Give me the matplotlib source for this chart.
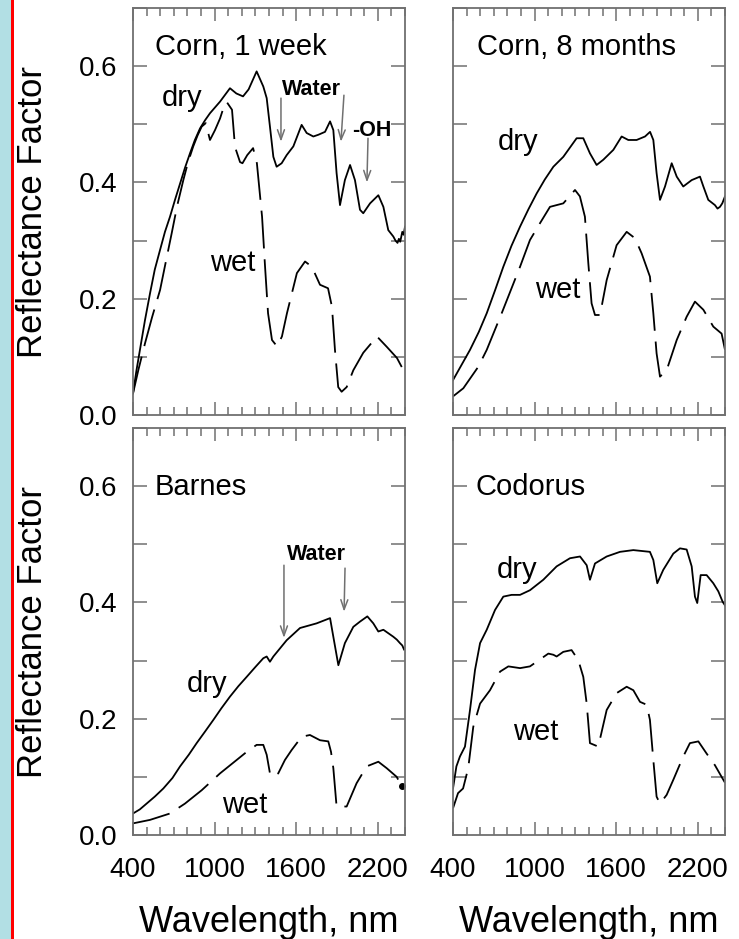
import matplotlib.pyplot as plt
from matplotlib.patches import Rectangle
from matplotlib.ticker import FixedLocator, MultipleLocator, FormatStrFormatter

plt.rcParams['font.family'] = ['Liberation Sans', 'DejaVu Sans']

# Corn residue, 1 week
corn1w_dry_nm = [400, 425, 451, 488, 525, 560, 599, 635, 672, 710, 746, 782, 819, 855, 893,
                 930, 966, 1040, 1113, 1160, 1209, 1250,
                 1309, 1358, 1383, 1407, 1432, 1456, 1493, 1530, 1579, 1640, 1677, 1726, 1763,
                 1812, 1849, 1873, 1897, 1922, 1958, 1996, 2032, 2069, 2093, 2143, 2204, 2241,
                 2277, 2314, 2330, 2345, 2355, 2365, 2380, 2390, 2400]
corn1w_dry = [0.037, 0.076, 0.112, 0.163, 0.209, 0.250, 0.284, 0.315, 0.341, 0.371, 0.398,
              0.425, 0.450, 0.473, 0.493, 0.507, 0.519, 0.539, 0.562,
              0.553, 0.548, 0.560, 0.591, 0.565, 0.545, 0.496, 0.444, 0.427, 0.433, 0.447,
              0.462, 0.499, 0.485, 0.479, 0.482, 0.487, 0.505, 0.490, 0.416, 0.361, 0.404,
              0.430, 0.404, 0.353, 0.347, 0.364, 0.378, 0.358, 0.318, 0.307, 0.300, 0.296,
              0.303, 0.298, 0.315, 0.310, 0.324]
corn1w_wet_nm = [400, 440, 488, 540, 599, 640, 684, 725, 770, 805, 843, 875, 905, 935, 966,
                 1003, 1040, 1076, 1090, 1128,
                 1150, 1187, 1205, 1240, 1283, 1311, 1349, 1371, 1393, 1422, 1459, 1495, 1532,
                 1605, 1665, 1715, 1775, 1834, 1863, 1885, 1909, 1934, 1971, 2020, 2093, 2194,
                 2267, 2341, 2400]
corn1w_wet = [0.037, 0.078, 0.123, 0.168, 0.215, 0.262, 0.312, 0.360, 0.404, 0.435, 0.462,
              0.481, 0.496, 0.502, 0.473, 0.490, 0.510,
              0.536, 0.538, 0.525, 0.461, 0.435, 0.433, 0.447, 0.459, 0.433, 0.341, 0.255,
              0.175, 0.129, 0.118, 0.135, 0.175, 0.244, 0.264, 0.255, 0.224, 0.218, 0.186,
              0.112, 0.048, 0.040, 0.048, 0.077, 0.107, 0.135, 0.117, 0.098, 0.072]

# Corn residue, 8 months
corn8m_dry_nm = [400, 460, 525, 590, 648, 710, 770, 830, 893, 955, 1015, 1075, 1138, 1211,
                 1309, 1358, 1407, 1456, 1505,
                 1579, 1640, 1689, 1750, 1812, 1849, 1873, 1897, 1922, 1959, 2008, 2045, 2093,
                 2155, 2216, 2241, 2277, 2326, 2345, 2363, 2380, 2400]
corn8m_dry = [0.060, 0.085, 0.112, 0.143, 0.175, 0.215, 0.255, 0.291, 0.324, 0.354, 0.381,
              0.405, 0.427, 0.444, 0.476, 0.476, 0.450,
              0.430, 0.439, 0.456, 0.479, 0.473, 0.473, 0.479, 0.487, 0.473, 0.416, 0.370,
              0.393, 0.433, 0.410, 0.393, 0.404, 0.410, 0.393, 0.370, 0.361, 0.355, 0.358,
              0.364, 0.376]
corn8m_wet_nm = [400, 476, 586, 648, 758, 893, 966, 1040, 1113, 1211, 1297, 1333, 1370, 1395,
                 1419, 1444, 1481, 1530, 1603, 1677, 1738, 1787, 1848, 1873, 1897, 1922, 1971,
                 2045, 2118, 2179, 2241, 2314, 2375, 2400]
corn8m_wet = [0.032, 0.046, 0.083, 0.112, 0.175, 0.255, 0.301, 0.330, 0.358, 0.364, 0.387,
              0.376, 0.341, 0.261, 0.192, 0.172, 0.172, 0.232, 0.292, 0.315, 0.304, 0.278,
              0.238, 0.175, 0.106, 0.066, 0.077, 0.129, 0.169, 0.195, 0.181, 0.152, 0.140,
              0.112]

# Barnes soil
barnes_dry_nm = [400, 450, 500, 560, 623, 690, 746, 810, 868, 930, 991, 1050, 1113, 1175,
                 1236, 1300, 1358, 1383, 1407, 1432, 1530, 1628,
                 1750, 1849, 1873, 1910, 1958, 2020, 2069, 2123, 2167, 2204, 2241, 2314, 2340,
                 2363, 2380, 2393]
barnes_dry = [0.037, 0.044, 0.054, 0.066, 0.080, 0.098, 0.118, 0.138, 0.158, 0.178, 0.198,
              0.218, 0.238, 0.256, 0.272, 0.289, 0.304, 0.307, 0.298,
              0.307, 0.335, 0.356, 0.364, 0.373, 0.341, 0.292, 0.330, 0.358, 0.367, 0.376,
              0.364, 0.350, 0.353, 0.341, 0.336, 0.330, 0.326, 0.319]
barnes_wet_nm = [400, 525, 672, 782, 905, 1040, 1162, 1236, 1309, 1358, 1383, 1407, 1432, 1468,
                 1517, 1566, 1640, 1701, 1775, 1836, 1856, 1873, 1897, 1971, 2044, 2118, 2204,
                 2265, 2339, 2375]
barnes_wet = [0.020, 0.026, 0.037, 0.054, 0.077, 0.106, 0.129, 0.143, 0.155, 0.155, 0.138,
              0.106, 0.100, 0.106, 0.129, 0.146, 0.169, 0.172, 0.163, 0.161, 0.143, 0.115,
              0.049, 0.049, 0.089, 0.118, 0.126, 0.115, 0.100, 0.084]

# Codorus soil
codorus_dry_nm = [400, 425, 451, 488, 525, 562, 599, 648, 709, 770, 831, 893, 966, 1064, 1162,
                  1260, 1334, 1383, 1407, 1444, 1530, 1628, 1726, 1848, 1873, 1902, 1946, 2020,
                  2069, 2118, 2155, 2179, 2196, 2221, 2265, 2314, 2351, 2383, 2400]
codorus_dry = [0.080, 0.118, 0.135, 0.152, 0.215, 0.284, 0.330, 0.353, 0.387, 0.410, 0.413,
               0.413, 0.421, 0.439, 0.462, 0.476, 0.479, 0.464, 0.439, 0.467, 0.479, 0.487,
               0.490, 0.487, 0.473, 0.433, 0.456, 0.484, 0.493, 0.491, 0.462, 0.410, 0.399,
               0.447, 0.447, 0.433, 0.419, 0.401, 0.395]
codorus_wet_nm = [400, 437, 474, 512, 549, 599, 672, 746, 807, 893, 966, 1015, 1101, 1138,
                  1162, 1211, 1272, 1321, 1358, 1383, 1407, 1468, 1530, 1603, 1677, 1726, 1775,
                  1824, 1848, 1873, 1897, 1922, 1971, 2020, 2093, 2142, 2204, 2265, 2326, 2375,
                  2400]
codorus_wet = [0.046, 0.072, 0.080, 0.115, 0.186, 0.226, 0.249, 0.281, 0.290, 0.287, 0.290,
               0.298, 0.312, 0.310, 0.307, 0.315, 0.318, 0.301, 0.272, 0.226, 0.158, 0.152,
               0.215, 0.244, 0.255, 0.249, 0.229, 0.224, 0.198, 0.129, 0.066, 0.054, 0.069,
               0.095, 0.135, 0.158, 0.161, 0.140, 0.120, 0.100, 0.090]

W, H = 739, 939
GREY = '#707070'

fig = plt.figure(figsize=(W / 100, H / 100), dpi=100)
# coloured strip down the left margin
fig.patches.append(Rectangle((0, 0), 11 / W, 1, transform=fig.transFigure,
                             facecolor='#b2dfe4', edgecolor='none'))
fig.patches.append(Rectangle((11 / W, 0), 2.5 / W, 1, transform=fig.transFigure,
                             facecolor='#ff0000', edgecolor='none'))


def panel(x0, y0, title, dry_nm, dry, wet_nm, wet, left, bottom):
    ax = fig.add_axes([x0 / W, 1 - (y0 + 407) / H, 272 / W, 407 / H])
    ax.plot(dry_nm, dry, color='black', lw=1.3)
    ax.plot(wet_nm, wet, color='black', lw=1.3, dashes=(21, 6))
    ax.set_xlim(400, 2400)
    ax.set_ylim(0, 0.7)
    ax.xaxis.set_major_locator(FixedLocator([400, 1000, 1600, 2200]))
    ax.xaxis.set_minor_locator(MultipleLocator(100))
    ax.yaxis.set_major_locator(MultipleLocator(0.2))
    ax.yaxis.set_minor_locator(MultipleLocator(0.1))
    ax.yaxis.set_major_formatter(FormatStrFormatter('%.1f'))
    ax.tick_params(which='both', direction='in', top=True, right=True, color=GREY,
                   width=1.1, labelsize=20, labelleft=left, labelbottom=bottom)
    ax.tick_params(axis='y', which='both', length=10, pad=11)
    ax.tick_params(axis='x', which='major', length=9.5, pad=16)
    ax.tick_params(axis='x', which='minor', length=5.5)
    for sp in ax.spines.values():
        sp.set_color(GREY)
        sp.set_linewidth(1.3)
    ax.text(562 if title != 'Corn, 8 months' else 576, 0.633 if y0 < 100 else 0.598,
            title, fontsize=21, va='center')
    if left:
        ax.set_ylabel('Reflectance Factor', fontsize=25, va='center')
        ax.yaxis.set_label_coords((33 - x0) / 272, 0.5)
    if bottom:
        ax.set_xlabel('Wavelength, nm', fontsize=26, labelpad=16)
    return ax


def arrow(ax, tail, tip):
    ax.annotate('', xy=tip, xytext=tail,
                arrowprops=dict(arrowstyle='->,head_length=0.7,head_width=0.25',
                                color=GREY, lw=1.1, shrinkA=0, shrinkB=0))


ax = panel(133, 8, 'Corn, 1 week', corn1w_dry_nm, corn1w_dry, corn1w_wet_nm, corn1w_wet,
           True, False)
ax.text(613, 0.545, 'dry', fontsize=21, va='center')
ax.text(966, 0.261, 'wet', fontsize=21, va='center')
ax.text(1716, 0.560, 'Water', fontsize=15.5, fontweight='bold', ha='center', va='center')
ax.text(2157, 0.490, '-OH', fontsize=15.5, fontweight='bold', ha='center', va='center')
arrow(ax, (1488, 0.545), (1488, 0.47))
arrow(ax, (1951, 0.550), (1929, 0.47))
arrow(ax, (2128, 0.476), (2120, 0.40))

ax = panel(453, 8, 'Corn, 8 months', corn8m_dry_nm, corn8m_dry, corn8m_wet_nm, corn8m_wet,
           False, False)
ax.text(731, 0.470, 'dry', fontsize=21, va='center')
ax.text(1003, 0.215, 'wet', fontsize=21, va='center')

ax = panel(133, 428, 'Barnes', barnes_dry_nm, barnes_dry, barnes_wet_nm, barnes_wet,
           True, True)
ax.plot(barnes_wet_nm[-1], barnes_wet[-1], 'o', color='black', ms=4)
ax.text(797, 0.260, 'dry', fontsize=21, va='center')
ax.text(1054, 0.052, 'wet', fontsize=21, va='center')
ax.text(1746, 0.482, 'Water', fontsize=15.5, fontweight='bold', ha='center', va='center')
arrow(ax, (1510, 0.464), (1510, 0.339))
arrow(ax, (1959, 0.459), (1952, 0.384))

ax = panel(453, 428, 'Codorus', codorus_dry_nm, codorus_dry, codorus_wet_nm, codorus_wet,
           False, True)
ax.text(724, 0.456, 'dry', fontsize=21, va='center')
ax.text(841, 0.177, 'wet', fontsize=21, va='center')

fig.savefig('out.png', dpi=100)
